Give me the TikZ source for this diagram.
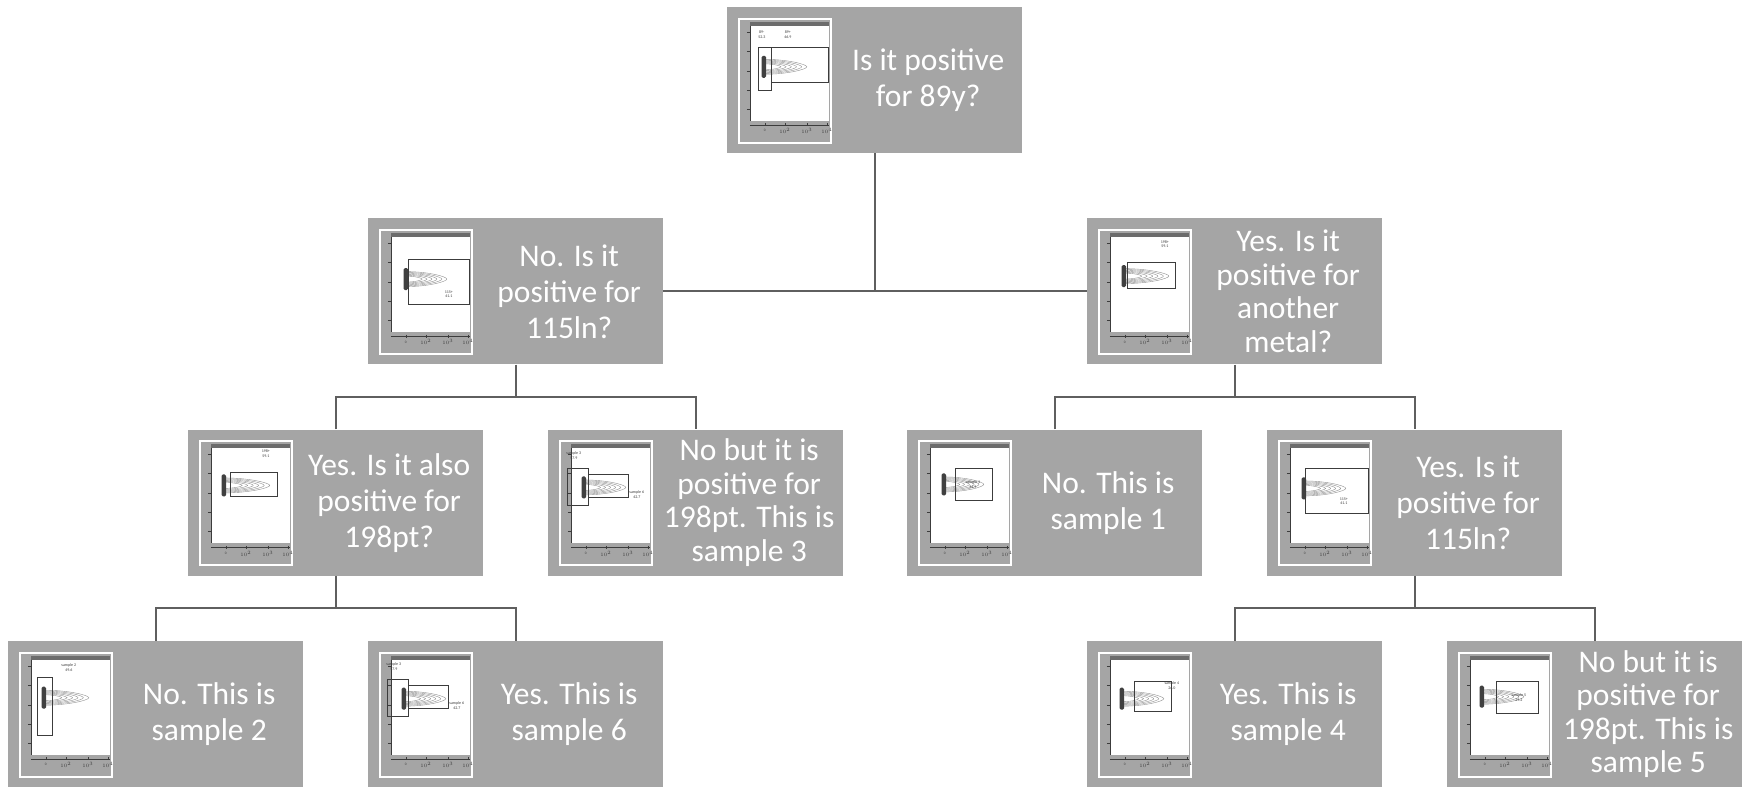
\documentclass[tikz,border=0pt]{standalone}
\usepackage{fontspec}
\setmainfont{Carlito}
\usetikzlibrary{positioning}
\definecolor{boxgray}{HTML}{A5A5A5}
\definecolor{linkgray}{HTML}{5F5F5F}
\definecolor{plotink}{HTML}{3C3C3C}

% contour blob of a cell population: x, y centre, length
\newcommand{\cellblob}[3]{%
  \foreach \k in {1,0.88,0.76,0.64,0.52,0.4}{%
    \draw[gray!55!black!60, line width=0.4pt] (#1,#2-7.5*\k) .. controls (#1+0.55*#3*\k,#2-7.5*\k) and (#1+#3*\k,#2-2.5*\k) .. (#1+#3*\k,#2) .. controls (#1+#3*\k,#2+2.5*\k) and (#1+0.55*#3*\k,#2+7.5*\k) .. (#1,#2+7.5*\k);
  }
  \fill[black!75, rounded corners=1.4pt] (#1-2.2,#2-11) rectangle (#1+2.2,#2+11);
}

% small flow plot in the left part of a box
\newcommand{\plotthumb}[2]{%
  \begin{scope}[shift={([xshift=12pt,yshift=-12pt]#1.north west)}]
    \draw[white, line width=2pt] (0,0) rectangle (92,124);
    \fill[white] (11,7) rectangle (90,102);
    \fill[gray!85!black] (11,3) rectangle (90,7);
    \draw[plotink, line width=0.4pt] (11,106) -- (90,106);
    \draw[plotink, line width=0.4pt] (11,7) -- (11,102);
    \foreach \tx in {26,46,68,88} \draw[plotink, line width=0.4pt] (\tx,104.5) -- (\tx,107.5);
    \foreach \ty in {13,32,52,71,90} \draw[plotink, line width=0.4pt] (8,\ty) -- (11,\ty);
    \foreach \tx/\tl [count=\i] in {26/0,46/$10^2$,68/$10^3$,88/$10^4$}
      \node[tick label] (#1-x\i) at (\tx,112) {\tl};
    #2
  \end{scope}}

\begin{document}
\begin{tikzpicture}[x=1pt, y=-1pt, node distance=211.3pt,
    main box/.style={rectangle, fill=boxgray, minimum width=295pt, minimum height=146pt, inner sep=0pt},
    main text/.style={text=white, align=center, inner sep=0pt, font=\fontsize{31.5}{36}\selectfont},
    long text/.style={main text, font=\fontsize{31.5}{33.5}\selectfont},
    link/.style={draw=linkgray, line width=2pt},
    gate/.style={draw=plotink, line width=0.6pt},
    gate label/.style={inner sep=0pt, align=center, text=plotink, font=\fontsize{4}{4.5}\selectfont},
    tick label/.style={inner sep=0pt, text=plotink, font=\fontsize{3.5}{4}\selectfont}]

    \useasboundingbox (0,0) rectangle (1743,790);

    \node[main box] (q0) at (874.5,80) {};
    \node[main box] (q1) [below of=q0, xshift=-359pt] {};
    \node[main box] (q2) [below of=q0, xshift=360pt] {};
    \node[main box] (q3) [below of=q1, xshift=-180pt] {};
    \node[main box] (q4) [below of=q1, xshift=180pt] {};
    \node[main box] (q5) [below of=q2, xshift=-180pt] {};
    \node[main box] (q6) [below of=q2, xshift=180pt] {};
    \node[main box] (q7) [below of=q3, xshift=-180pt] {};
    \node[main box] (q8) [below of=q3, xshift=180pt] {};
    \node[main box] (q9) [below of=q6, xshift=-180pt] {};
    \node[main box] (q10) [below of=q6, xshift=180pt] {};

    \node[main text] (t0) at ([xshift=-94pt]q0.east) {Is it positive\\for 89y?};
    \node[main text] (t1) at ([xshift=-94pt]q1.east) {No. Is it\\positive for\\115ln?};
    \node[long text] (t2) at ([xshift=-94pt]q2.east) {Yes. Is it\\positive for\\another\\metal?};
    \node[main text] (t3) at ([xshift=-94pt]q3.east) {Yes. Is it also\\positive for\\198pt?};
    \node[long text] (t4) at ([xshift=-94pt]q4.east) {No but it is\\positive for\\198pt. This is\\sample 3};
    \node[main text] (t5) at ([xshift=-94pt]q5.east) {No. This is\\sample 1};
    \node[main text] (t6) at ([xshift=-94pt]q6.east) {Yes. Is it\\positive for\\115ln?};
    \node[main text] (t7) at ([xshift=-94pt]q7.east) {No. This is\\sample 2};
    \node[main text] (t8) at ([xshift=-94pt]q8.east) {Yes. This is\\sample 6};
    \node[main text] (t9) at ([xshift=-94pt]q9.east) {Yes. This is\\sample 4};
    \node[long text] (t10) at ([xshift=-94pt]q10.east) {No but it is\\positive for\\198pt. This is\\sample 5};

    \plotthumb{q0}{
      \cellblob{25}{48}{43}
      \draw[gate] (19,28) rectangle (32,71);
      \draw[gate] (32,28) rectangle (89.5,63);
      \node[gate label] (q0-g1) at (23,16) {89-\\52.3};
      \node[gate label] (q0-g2) at (49,16) {89+\\46.9};
    }
    \plotthumb{q1}{
      \cellblob{26}{49}{41}
      \draw[gate] (28,29) rectangle (89.5,74);
      \node[gate label] (q1-g1) at (69,64) {115+\\41.1};
    }
    \plotthumb{q2}{
      \cellblob{25}{46}{45}
      \draw[gate] (28,32) rectangle (76,58);
      \node[gate label] (q2-g1) at (66,14) {198+\\59.1};
    }
    \plotthumb{q3}{
      \cellblob{24}{44}{46}
      \draw[gate] (30,31) rectangle (77,55);
      \node[gate label] (q3-g1) at (66,12) {198+\\59.1};
    }
    \plotthumb{q4}{
      \cellblob{24}{46}{42}
      \draw[gate] (7,27) rectangle (28,64);
      \draw[gate] (28,33) rectangle (68,56);
      \node[gate label] (q4-g1) at (14,14) {sample 3\\57.9};
      \node[gate label] (q4-g2) at (77,53) {sample 6\\42.7};
    }
    \plotthumb{q5}{
      \cellblob{25}{43}{40}
      \draw[gate] (36,27) rectangle (73,59);
      \node[gate label] (q5-g1) at (54,43) {sample 1\\34.9};
    }
    \plotthumb{q6}{
      \cellblob{25}{47}{42}
      \draw[gate] (26,27) rectangle (89,72);
      \node[gate label] (q6-g1) at (65,60) {115+\\41.1};
    }
    \plotthumb{q7}{
      \cellblob{24}{45}{45}
      \draw[gate] (17,25) rectangle (32,83);
      \node[gate label] (q7-g1) at (49,15) {sample 2\\49.6};
    }
    \plotthumb{q8}{
      \cellblob{24}{46}{42}
      \draw[gate] (7,27) rectangle (28,64);
      \draw[gate] (28,33) rectangle (68,56);
      \node[gate label] (q8-g1) at (14,14) {sample 3\\57.9};
      \node[gate label] (q8-g2) at (77,53) {sample 6\\42.7};
    }
    \plotthumb{q9}{
      \cellblob{23}{46}{42}
      \draw[gate] (35,29) rectangle (72,59);
      \node[gate label] (q9-g1) at (73,33) {sample 4\\26.0};
    }
    \plotthumb{q10}{
      \cellblob{23}{44}{42}
      \draw[gate] (37,29) rectangle (79,61);
      \node[gate label] (q10-g1) at (60,45) {sample 5\\29.2};
    }

    \draw[link] (q1.east) -- (q2.west);
    \draw[link] (q0.south) -- (q0.south |- q1.east);
    \coordinate (j1) at ([yshift=-32.5pt]q1.south);
    \draw[link] (q1.south) -- (j1);
    \draw[link] (q3.north) |- (j1) -| (q4.north);
    \coordinate (j2) at ([yshift=-32.5pt]q2.south);
    \draw[link] (q2.south) -- (j2);
    \draw[link] (q5.north) |- (j2) -| (q6.north);
    \coordinate (j3) at ([yshift=-32.5pt]q3.south);
    \draw[link] (q3.south) -- (j3);
    \draw[link] (q7.north) |- (j3) -| (q8.north);
    \coordinate (j4) at ([yshift=-32.5pt]q6.south);
    \draw[link] (q6.south) -- (j4);
    \draw[link] (q9.north) |- (j4) -| (q10.north);

\end{tikzpicture}
\end{document}
